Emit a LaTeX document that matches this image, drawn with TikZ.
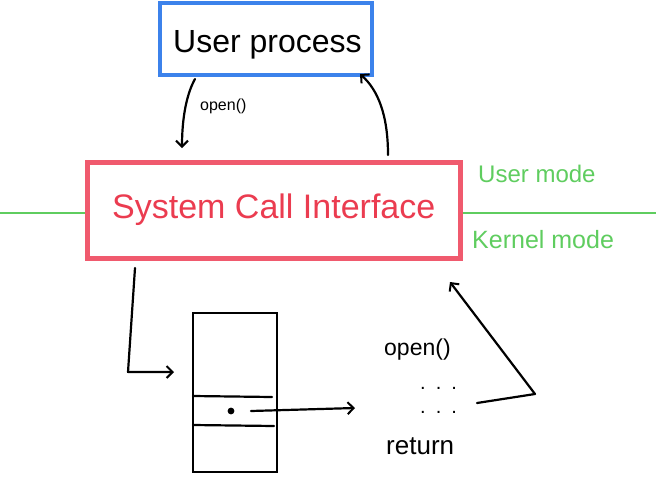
\documentclass[tikz,border=0pt]{standalone}
\usepackage{fontspec}
\setmainfont{Liberation Sans}
\usetikzlibrary{arrows.meta}
\definecolor{boxblue}{RGB}{60,130,235}
\definecolor{boxred}{RGB}{240,90,110}
\definecolor{textred}{RGB}{235,60,80}
\definecolor{modegreen}{RGB}{95,205,95}
\tikzset{
  pen/.style={line width=2.2pt, black, line cap=round, line join=round},
  arr/.style={pen, -{Straight Barb[length=6pt,width=12pt,line width=2pt]}},
  bluebox/.style={draw=boxblue, line width=4.5pt, minimum width=212pt, minimum height=72pt, inner sep=0pt},
  redbox/.style={draw=boxred, line width=5pt, minimum width=373pt, minimum height=96pt, inner sep=0pt},
  tablebox/.style={draw, line width=2.2pt, minimum width=84pt, minimum height=159pt, inner sep=0pt},
  lbl/.style={inner sep=0pt, anchor=base west},
}
\begin{document}
\begin{tikzpicture}[x=1pt,y=-1pt]
\useasboundingbox[fill=white] (0,0) rectangle (656,477);
% system call interface and mode line
\coordinate (gl) at (0,213);
\coordinate (gr) at (656,213);
\node[redbox] (sci) at (273.5,210) {};
\draw[modegreen, line width=2pt] (gl) -- (gl -| sci.west);
\draw[modegreen, line width=2pt] (gr -| sci.east) -- (gr);
\node[redbox] (sci) at (273.5,210) {};
\node[lbl, text=textred, font=\fontsize{34}{34}\selectfont] (scit) at (112,218) {System Call Interface};
\node[lbl, text=modegreen, font=\fontsize{24}{24}\selectfont] (um) at (478,182) {User mode};
\node[lbl, text=modegreen, font=\fontsize{25}{25}\selectfont] (km) at (472,248) {Kernel mode};
% user process
\node[bluebox] (up) at (266,39) {};
\node[lbl, font=\fontsize{32}{32}\selectfont] (upt) at (173,52) {User process};
% open() arrow
\coordinate (o1) at (195,79);
\coordinate (o2) at (182,148);
\draw[arr] (o1) .. controls (186,95) and (182,120) .. (o2);
\node[lbl, font=\fontsize{16}{16}\selectfont] (opl) at (200,110) {open()};
% return arrow
\coordinate (r1) at (388,155);
\coordinate (r2) at (360,74);
\draw[arr] (r1) .. controls (388,115) and (378,90) .. (r2);
% table
\node[tablebox] (tab) at (235,392.5) {};
\coordinate (d1l) at (193,396); \coordinate (d1r) at (272,397);
\coordinate (d2l) at (193,425); \coordinate (d2r) at (274,426);
\draw[pen] (d1l) -- (d1r);
\draw[pen] (d2l) -- (d2r);
\fill (231,411) circle (3.4pt) coordinate (dot);
% L arrow
\coordinate (l1) at (135,268);
\coordinate (l2) at (128,372);
\coordinate (l3) at (174,372);
\draw[arr] (l1) -- (l2) -- (l3);
% pointer arrow
\coordinate (p1) at (251,411);
\coordinate (p2) at (355,408);
\draw[arr] (p1) -- (p2);
% code listing
\node[lbl, font=\fontsize{23}{23}\selectfont] (op2) at (384,355) {open()};
\node[lbl, font=\fontsize{20}{20}\selectfont] (dt1) at (420,389) {.\,\,\,.\,\,\,.};
\node[lbl, font=\fontsize{20}{20}\selectfont] (dt2) at (420,413) {.\,\,\,.\,\,\,.};
\node[lbl, font=\fontsize{26}{26}\selectfont] (ret) at (386,454) {return};
% triangle return arrow
\coordinate (t1) at (477,403);
\coordinate (t2) at (535,394);
\coordinate (t3) at (450,282);
\draw[arr] (t1) -- (t2) -- (t3);
\end{tikzpicture}
\end{document}
